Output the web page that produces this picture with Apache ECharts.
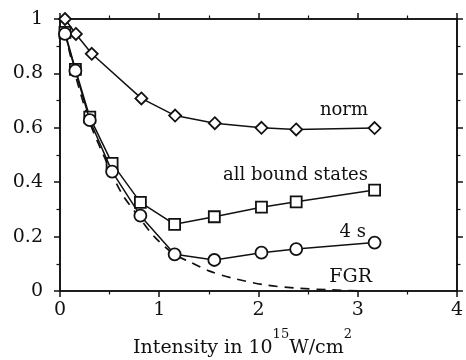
<!DOCTYPE html>
<html>
<head>
<meta charset="utf-8">
<script src="https://cdn.jsdelivr.net/npm/echarts@6/dist/echarts.min.js"></script>
<style>
  html, body { margin: 0; padding: 0; background: #fff; }
  #chart { width: 466px; height: 360px; }
</style>
</head>
<body>
<div id="chart"></div>
<script>
// Intensity values (10^15 W/cm^2) of the computed runs
const normX = [0.05, 0.16, 0.32, 0.82, 1.16, 1.56, 2.03, 2.38, 3.17];
const normY = [1.0, 0.945, 0.872, 0.708, 0.645, 0.617, 0.600, 0.594, 0.599];

const stateX = [0.05, 0.155, 0.30, 0.525, 0.81, 1.155, 1.555, 2.03, 2.38, 3.17];
const boundY = [0.951, 0.815, 0.639, 0.469, 0.326, 0.245, 0.273, 0.308, 0.328, 0.371];
const fourSY = [0.945, 0.810, 0.628, 0.439, 0.277, 0.135, 0.114, 0.141, 0.154, 0.178];

// Fermi golden rule estimate
const fgrX = [0.05, 0.15, 0.30, 0.45, 0.62, 0.80, 0.95, 1.15, 1.32, 1.50, 1.73, 2.07, 2.40, 2.73, 3.05];
const fgrY = [0.95, 0.80, 0.62, 0.49, 0.36, 0.27, 0.20, 0.135, 0.105, 0.074, 0.048, 0.022, 0.010, 0.004, 0.0];

const xTicks = ['0', '1', '2', '3', '4'];
const yTicks = ['0', '0.2', '0.4', '0.6', '0.8', '1'];

const pairs = (xs, ys) => xs.map((x, i) => [x, ys[i]]);

const INK = '#111';
const SERIF = '"DejaVu Serif", serif';

function axis(extra) {
  return Object.assign({
    type: 'value',
    axisLine: { show: true, onZero: false, lineStyle: { color: INK, width: 1.6 } },
    axisTick: { show: true, inside: false, length: 6, lineStyle: { color: INK, width: 1.5 } },
    minorTick: { show: true, splitNumber: 2, length: 3.5, lineStyle: { color: INK, width: 1.2 } },
    splitLine: { show: false },
    minorSplitLine: { show: false }
  }, extra);
}

const chart = echarts.init(document.getElementById('chart'), null, { renderer: 'canvas' });

const markerStyle = { color: '#fff', borderColor: INK, borderWidth: 1.8 };
const lineStyle = { color: INK, width: 1.5 };

chart.setOption({
  animation: false,
  backgroundColor: '#fff',
  grid: { left: 60, right: 6, top: 19, bottom: 69, show: true, borderColor: INK, borderWidth: 1.6, backgroundColor: 'transparent' },
  xAxis: [
    axis({
      position: 'bottom', min: 0, max: 4, interval: 1,
      axisLabel: {
        show: true, margin: 10, color: INK, fontFamily: SERIF, fontSize: 19,
        formatter: v => xTicks[Math.round(v)]
      }
    }),
    axis({
      position: 'top', min: 0, max: 4, interval: 1,
      axisLabel: { show: false }
    })
  ],
  yAxis: [
    axis({
      position: 'left', min: 0, max: 1, interval: 0.2,
      axisLabel: {
        show: true, margin: 17, color: INK, fontFamily: SERIF, fontSize: 19,
        formatter: v => yTicks[Math.round(v * 5)]
      }
    }),
    axis({
      position: 'right', min: 0, max: 1, interval: 0.2,
      axisLabel: { show: false }
    })
  ],
  series: [
    {
      name: 'FGR', type: 'line', data: pairs(fgrX, fgrY),
      showSymbol: false, smooth: 0.3,
      lineStyle: { color: INK, width: 1.7, type: [9, 7] }, z: 1
    },
    {
      name: 'norm', type: 'line', data: pairs(normX, normY),
      symbol: 'diamond', symbolSize: 12,
      itemStyle: markerStyle, lineStyle: lineStyle, z: 2
    },
    {
      name: 'all bound states', type: 'line', data: pairs(stateX, boundY),
      symbol: 'rect', symbolSize: 11,
      itemStyle: markerStyle, lineStyle: lineStyle, z: 3
    },
    {
      name: '4 s', type: 'line', data: pairs(stateX, fourSY),
      symbol: 'circle', symbolSize: 12,
      itemStyle: markerStyle, lineStyle: lineStyle, z: 4
    },
    {
      // keeps the top and right frame axes attached to the grid
      name: 'frame', type: 'line', xAxisIndex: 1, yAxisIndex: 1,
      data: [], showSymbol: false, silent: true
    }
  ],
  graphic: [
    { type: 'text', right: 98, top: 101, style: { text: 'norm', font: '18px ' + SERIF, fill: INK } },
    { type: 'text', right: 98, top: 166, style: { text: 'all bound states', font: '18px ' + SERIF, fill: INK } },
    { type: 'text', right: 100, top: 223, style: { text: '4 s', font: '18px ' + SERIF, fill: INK } },
    { type: 'text', right: 94, top: 268, style: { text: 'FGR', font: '19px ' + SERIF, fill: INK } },
    {
      type: 'text', left: 133, top: 328,
      style: {
        text: '{n|Intensity in 10}{s|15}{n|W/cm}{s|2}',
        fill: INK,
        rich: {
          n: { fontFamily: SERIF, fontSize: 19, lineHeight: 30, verticalAlign: 'bottom', fill: INK },
          s: { fontFamily: SERIF, fontSize: 13, lineHeight: 30, verticalAlign: 'top', fill: INK }
        }
      }
    }
  ]
});
</script>
</body>
</html>
